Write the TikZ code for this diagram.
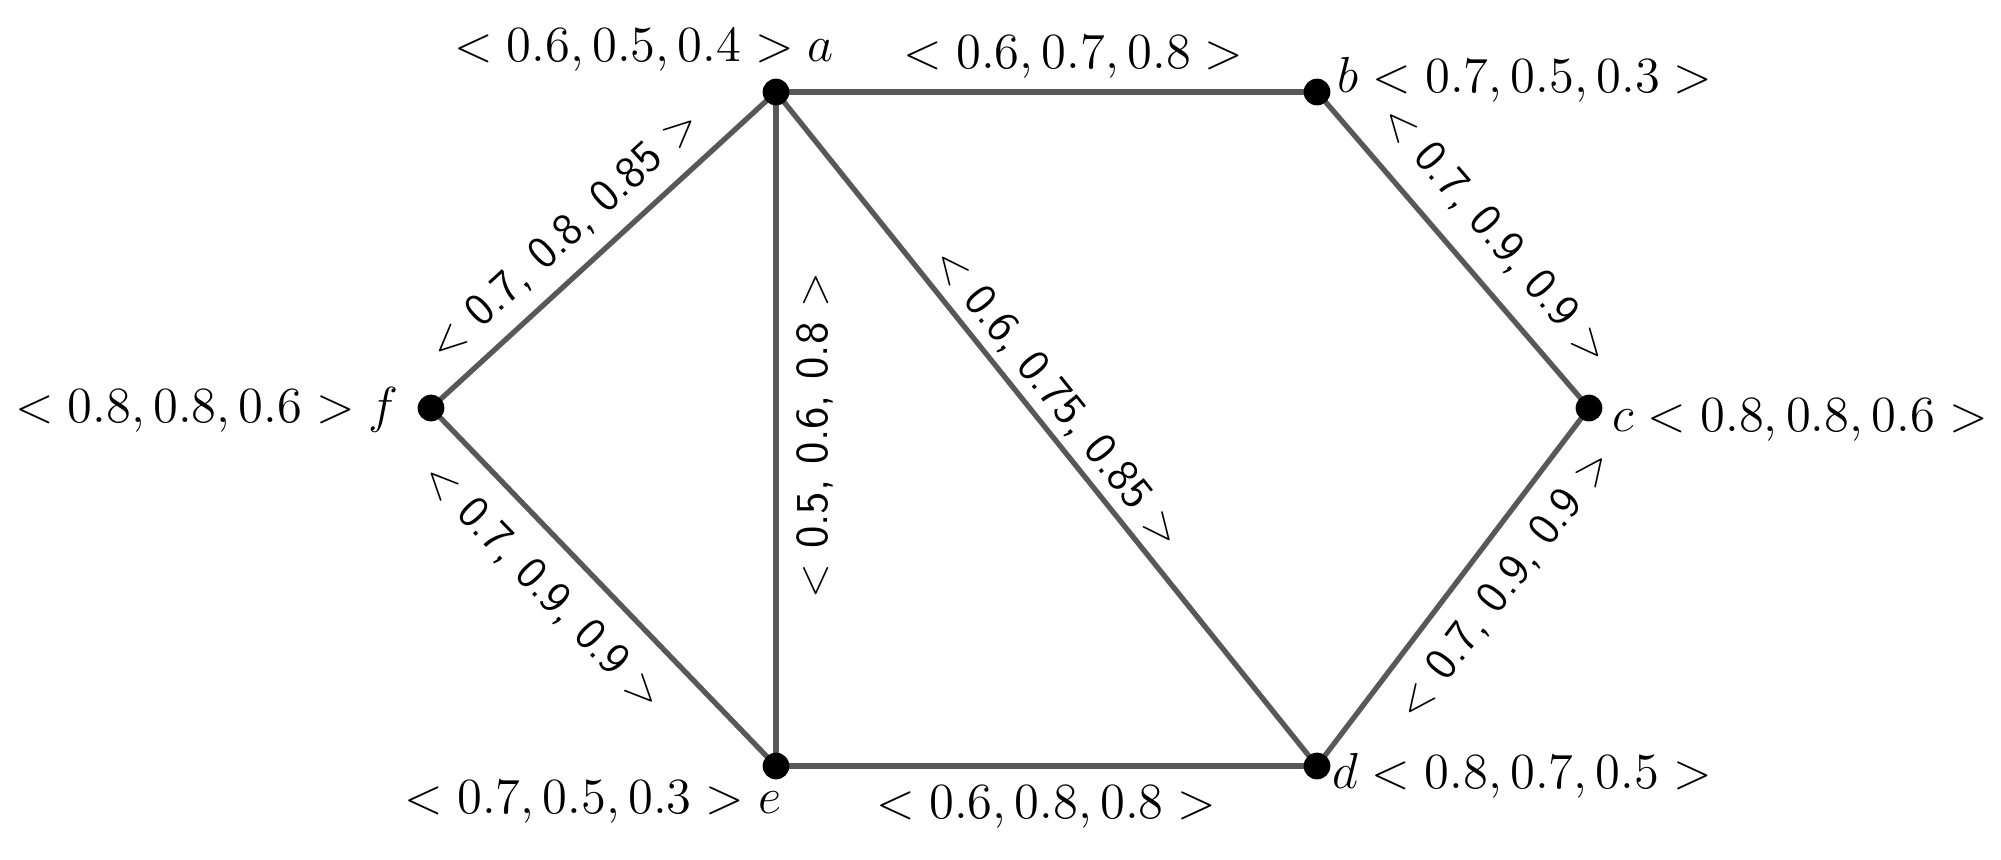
\documentclass[tikz,border=0pt]{standalone}
\usetikzlibrary{backgrounds}
\definecolor{edgegray}{RGB}{88,88,88}
\tikzset{
  vertex/.style={circle, fill=black, inner sep=0pt, minimum size=7.6pt},
  edgeline/.style={draw=edgegray, line width=1.5pt},
  elab/.style={sloped, inner sep=1pt, font=\sffamily\fontsize{13}{15}\selectfont},
  hlab/.style={inner sep=1pt, font=\fontsize{13.8}{16}\selectfont},
  vlab/.style={inner sep=0pt, font=\fontsize{13.8}{16}\selectfont}
}
\begin{document}
\begin{tikzpicture}[x=0.01cm, y=-0.01cm]
\useasboundingbox (0,0) rectangle (2001,859);
% vertices
\node[vertex] (a) at (776,92) {};
\node[vertex] (b) at (1317,92) {};
\node[vertex] (c) at (1589,408) {};
\node[vertex] (d) at (1317,766) {};
\node[vertex] (e) at (776,766) {};
\node[vertex] (f) at (431,408) {};
% vertex labels
\node[vlab] (la) at (644,50) {$<0.6,0.5,0.4>a$};
\node[vlab] (lb) at (1525,80) {$b<0.7,0.5,0.3>$};
\node[vlab] (lc) at (1800,420) {$c<0.8,0.8,0.6>$};
\node[vlab] (ld) at (1522,776) {$d<0.8,0.7,0.5>$};
\node[vlab] (le) at (593,802) {$<0.7,0.5,0.3>e$};
\node[vlab] (lf) at (207,410) {$<0.8,0.8,0.6>f$};
% edges
\begin{scope}[on background layer]
\draw[edgeline] (a.center) -- node[hlab, pos=0.55, above=2pt] (lab) {$<0.6,0.7,0.8>$} (b.center);
\draw[edgeline] (e.center) -- node[hlab, pos=0.5, below=4pt] (led) {$<0.6,0.8,0.8>$} (d.center);
\draw[edgeline] (f.center) -- node[elab, pos=0.46, above=3.5pt] (lfa) {< 0.7, 0.8, 0.85 >} (a.center);
\draw[edgeline] (f.center) -- node[elab, pos=0.415, below=5.5pt] (lfe) {< 0.7, 0.9, 0.9 >} (e.center);
\draw[edgeline] (e.center) -- node[elab, pos=0.49, below=4pt] (lea) {< 0.5, 0.6, 0.8 >} (a.center);
\draw[edgeline] (a.center) -- node[elab, pos=0.48, above=1pt] (lad) {< 0.6, 0.75, 0.85 >} (d.center);
\draw[edgeline] (b.center) -- node[elab, pos=0.54, above=5pt] (lbc) {< 0.7, 0.9, 0.9 >} (c.center);
\draw[edgeline] (d.center) -- node[elab, pos=0.574, below=4.5pt] (ldc) {< 0.7, 0.9, 0.9 >} (c.center);
\end{scope}
\end{tikzpicture}
\end{document}
